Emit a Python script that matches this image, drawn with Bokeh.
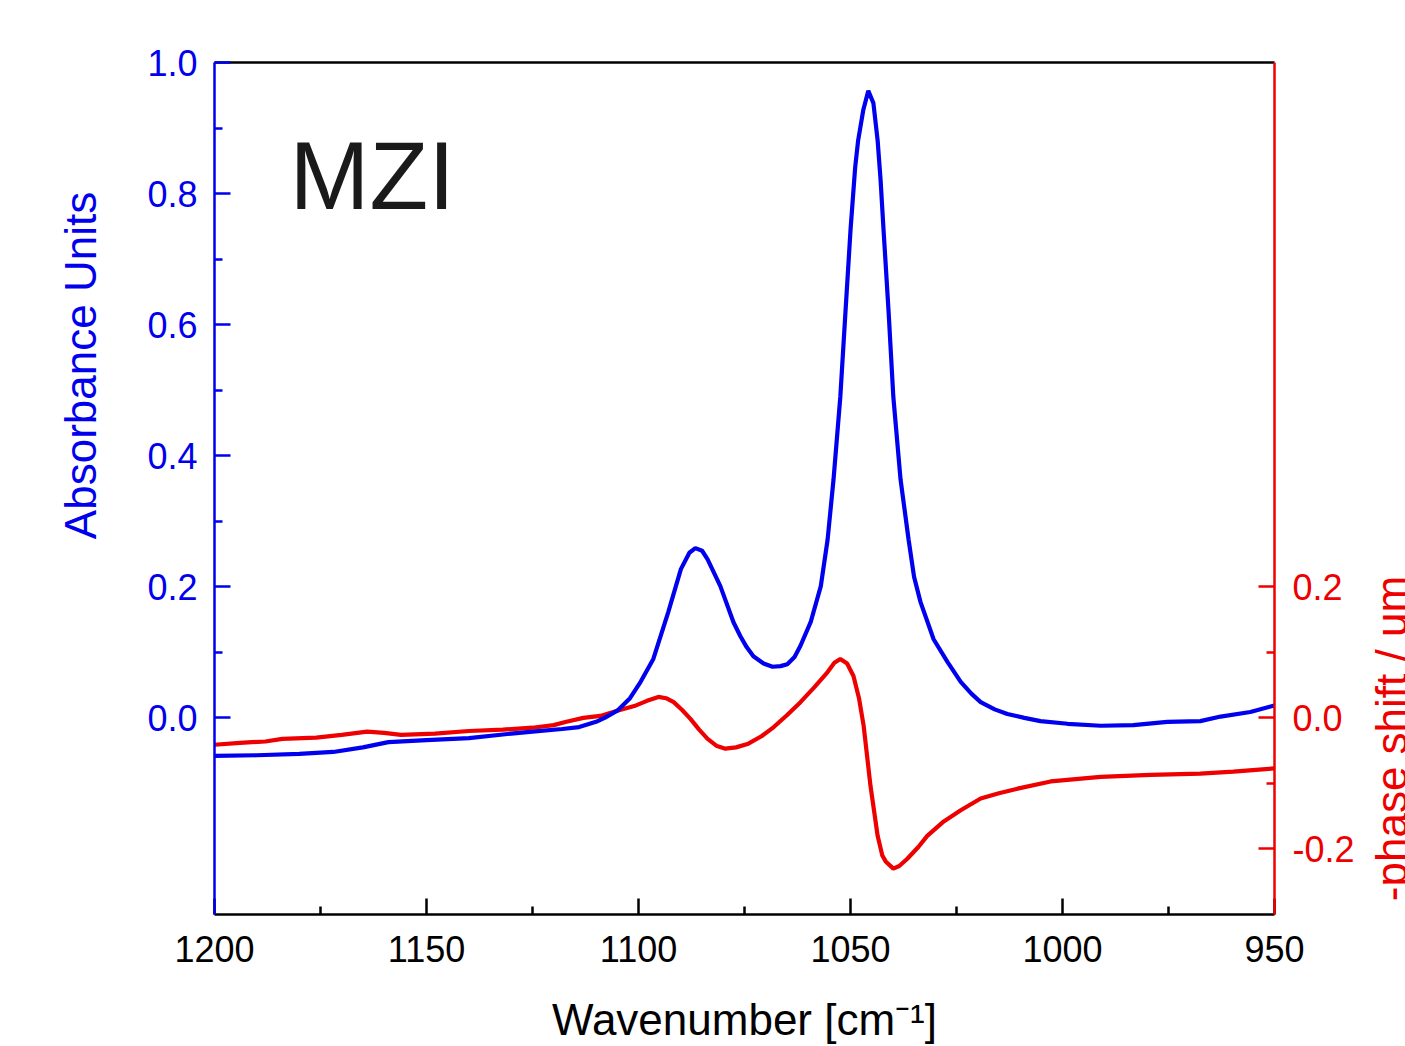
import math
from bokeh.plotting import figure
from bokeh.layouts import row
from bokeh.models import (Range1d, LinearAxis, FixedTicker, PrintfTickFormatter,
                          Label, ColumnDataSource)
from bokeh.core.properties import value
from bokeh.embed import file_html
from bokeh.resources import INLINE

# ---- data ----
abs_wn = [1200, 1190, 1180, 1172, 1165, 1159, 1150, 1140, 1130, 1125, 1118, 1114,
          1110, 1108, 1105, 1102, 1099.5, 1096.5, 1093, 1090, 1088, 1086.6, 1085,
          1083.7, 1080.7, 1077.6, 1076, 1074.5, 1072.9, 1070.5, 1068.4, 1066.5,
          1064.9, 1063.2, 1061.8, 1059.4, 1057, 1055.4, 1054, 1052.4, 1051.2, 1050,
          1048.9, 1048.2, 1047, 1045.8, 1044.6, 1043.6, 1042.9, 1042.2, 1041,
          1039.9, 1038.2, 1036.3, 1035, 1033.5, 1030.4, 1027.1, 1024, 1021.5,
          1019.3, 1016, 1013, 1009, 1005.2, 998.8, 991, 983.3, 975.3, 967.5,
          962.7, 955.7, 950]
abs_val = [-0.058, -0.057, -0.055, -0.052, -0.045, -0.037, -0.034, -0.031, -0.024,
           -0.021, -0.017, -0.014, -0.006, 0.000, 0.011, 0.030, 0.055, 0.090, 0.161,
           0.227, 0.252, 0.259, 0.255, 0.242, 0.201, 0.146, 0.125, 0.108, 0.094,
           0.083, 0.078, 0.079, 0.082, 0.093, 0.110, 0.146, 0.201, 0.272, 0.364,
           0.490, 0.618, 0.744, 0.840, 0.881, 0.927, 0.957, 0.938, 0.881, 0.820,
           0.744, 0.618, 0.490, 0.364, 0.272, 0.215, 0.177, 0.120, 0.085, 0.055,
           0.037, 0.024, 0.013, 0.006, 0.000, -0.005, -0.009, -0.012, -0.011,
           -0.006, -0.005, 0.002, 0.009, 0.019]

ph_wn = [1200, 1194, 1188, 1184, 1176, 1170, 1164, 1160, 1156, 1148, 1140, 1132,
         1125, 1120, 1117, 1113, 1109, 1105, 1101, 1098, 1095.3, 1093.5, 1091.7,
         1089.7, 1087.7, 1085.7, 1083.7, 1081.5, 1079.5, 1077, 1074.3, 1071,
         1068.1, 1065, 1061.8, 1058.5, 1055.4, 1053.8, 1052.4, 1050.8, 1049.3,
         1048, 1046.9, 1045.3, 1043.6, 1042.5, 1041.7, 1039.9, 1038.5, 1036.6,
         1034, 1031.9, 1028, 1024, 1019.3, 1015, 1010.6, 1002.8, 991, 979.2,
         967.5, 959.7, 950]
ph_val = [-0.041, -0.038, -0.036, -0.032, -0.030, -0.026, -0.021, -0.023, -0.026,
          -0.024, -0.020, -0.018, -0.015, -0.011, -0.006, 0.000, 0.003, 0.011,
          0.018, 0.026, 0.032, 0.030, 0.024, 0.012, -0.002, -0.018, -0.032, -0.043,
          -0.047, -0.045, -0.040, -0.028, -0.014, 0.004, 0.024, 0.047, 0.070,
          0.084, 0.090, 0.083, 0.064, 0.030, -0.012, -0.103, -0.180, -0.210,
          -0.219, -0.230, -0.226, -0.215, -0.197, -0.180, -0.158, -0.141, -0.123,
          -0.115, -0.108, -0.097, -0.090, -0.087, -0.085, -0.082, -0.077]

x_ticks = [1200, 1150, 1100, 1050, 1000, 950]
x_minor = [1175, 1125, 1075, 1025, 975]
left_ticks = [0.0, 0.2, 0.4, 0.6, 0.8, 1.0]
left_minor = [0.1, 0.3, 0.5, 0.7, 0.9]
right_ticks = [-0.2, 0.0, 0.2]
right_minor = [-0.1, 0.1]

BLUE = "#0000ee"
RED = "#ee0000"
FONT = "Liberation Sans"
H = 1046
LW, RW = 120, 35
MW = 1405 - LW - RW

p = figure(width=MW, height=H, output_backend="svg", toolbar_location=None,
           x_range=Range1d(1200, 950), y_range=Range1d(-0.3, 1.0),
           x_axis_location=None, y_axis_location=None,
           min_border_left=214 - LW, min_border_right=MW + LW - 1274,
           min_border_top=62, min_border_bottom=130)
p.grid.visible = False
p.outline_line_color = None
p.background_fill_color = "white"
p.border_fill_color = "white"

def style(ax, color):
    ax.axis_line_color = color
    ax.axis_line_width = 2.5
    ax.major_tick_line_color = color
    ax.minor_tick_line_color = color
    ax.major_tick_line_width = 2.5
    ax.minor_tick_line_width = 2.5
    ax.major_tick_in = 16
    ax.major_tick_out = 0
    ax.minor_tick_in = 8
    ax.minor_tick_out = 0
    ax.major_label_text_color = color
    ax.major_label_text_font = FONT
    ax.major_label_text_font_size = "36px"

# bottom axis
xa = LinearAxis(ticker=FixedTicker(ticks=x_ticks, minor_ticks=x_minor),
                axis_label="Wavenumber [cm\u207b\u00b9]")
style(xa, "black")
xa.major_label_standoff = 21
xa.axis_label_text_font = FONT
xa.axis_label_text_font_size = "44px"
xa.axis_label_text_font_style = "normal"
xa.axis_label_text_color = "black"
xa.axis_label_standoff = 30
p.add_layout(xa, "below")

# top border
ta = LinearAxis(ticker=FixedTicker(ticks=[]), major_label_text_font_size="0px")
ta.axis_line_color = "black"
ta.axis_line_width = 2.5
ta.major_tick_line_color = None
ta.minor_tick_line_color = None
p.add_layout(ta, "above")

# left axis
la = LinearAxis(ticker=FixedTicker(ticks=left_ticks, minor_ticks=left_minor),
                formatter=PrintfTickFormatter(format="%.1f"))
style(la, BLUE)
la.major_label_standoff = 17
p.add_layout(la, "left")

# right axis
ra = LinearAxis(ticker=FixedTicker(ticks=right_ticks, minor_ticks=right_minor),
                formatter=PrintfTickFormatter(format="%.1f"))
style(ra, RED)
ra.major_label_standoff = 18
p.add_layout(ra, "right")

src_a = ColumnDataSource(dict(x=abs_wn, y=abs_val))
src_p = ColumnDataSource(dict(x=ph_wn, y=ph_val))
p.line("x", "y", source=src_p, line_color=RED, line_width=4.2)
p.line("x", "y", source=src_a, line_color=BLUE, line_width=4.2)

p.add_layout(Label(x=1182.3, y=0.828, text="MZI", text_align="left",
                   text_baseline="alphabetic", text_font=FONT,
                   text_font_size="96px", text_color="#1a1a1a"))

def side(width):
    f = figure(width=width, height=H, output_backend="svg", toolbar_location=None,
               x_range=Range1d(0, width), y_range=Range1d(H, 0),
               x_axis_location=None, y_axis_location=None,
               min_border_left=0, min_border_right=0, min_border_top=0,
               min_border_bottom=0)
    f.grid.visible = False
    f.outline_line_color = None
    f.background_fill_color = "white"
    f.border_fill_color = "white"
    return f

lf = side(LW)
lf.text(x=[80], y=[372], text=["Absorbance Units"], angle=math.pi / 2,
        text_align="center", text_baseline="middle", text_font=value(FONT),
        text_font_size="44px", text_color=BLUE)

rf = side(RW)
rf.text(x=[1391 - (1405 - RW)], y=[830], text=["-phase shift / um"],
        angle=math.pi / 2, text_align="center", text_baseline="middle",
        text_font=value(FONT), text_font_size="44px", text_color=RED)

layout = row(lf, p, rf, spacing=0)
open("out.html", "w").write(file_html(layout, INLINE))
